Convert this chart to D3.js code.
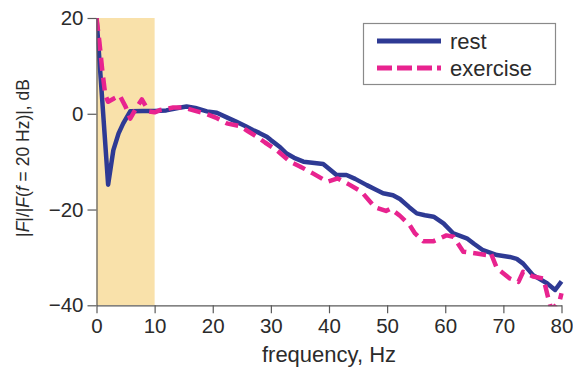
<!DOCTYPE html>
<html>
<head>
<meta charset="utf-8">
<script src="https://cdn.jsdelivr.net/npm/d3@7"></script>
<style>
  html, body { margin: 0; padding: 0; background: #fff; }
  svg { display: block; font-family: "Liberation Sans", Arial, Helvetica, sans-serif; }
</style>
</head>
<body>
<svg id="chart" width="573" height="374"></svg>
<script>
// Frequency response relative to 20 Hz, at rest and during exercise
const restFreq = [0, 2, 2.9, 3.8, 4.6, 5.8, 8, 10, 12, 14, 15.5, 17, 19, 20.7, 22.5, 24.1, 25.5, 26.9, 28, 29.3, 30, 31.6, 32.7, 34, 35.6, 37.5, 39, 40, 41.3, 43, 44.5, 46.5, 48, 49.3, 51, 52.2, 53.8, 55.1, 56.5, 58, 59.7, 61.4, 63.7, 65, 66.5, 68.9, 71.1, 72.3, 73.4, 75.1, 77.5, 78.9, 80];
const restDb   = [20, -14.8, -7.6, -4.1, -2, 0.5, 0.6, 0.6, 0.7, 1.2, 1.5, 1.2, 0.5, 0.2, -0.8, -1.7, -2.5, -3.4, -4, -4.8, -5.5, -7, -8.3, -9.2, -10, -10.3, -10.5, -11.5, -12.8, -12.8, -13.6, -14.9, -15.8, -16.6, -17, -17.8, -19.5, -20.8, -21.2, -21.5, -22.9, -25, -26, -27.2, -28.5, -29.5, -29.9, -30.3, -31.3, -33.7, -35.4, -36.8, -35];

const exerciseFreq = [0, 0.5, 1, 1.5, 2, 3, 4, 5, 5.8, 7, 7.8, 9, 10, 11, 13.2, 15, 17, 19, 20.5, 22.4, 24.7, 26, 27.6, 29, 31, 33.3, 35, 37.3, 39.7, 41.5, 43.5, 45.6, 47.9, 49.8, 50.6, 52.2, 53.9, 54.8, 56.2, 58, 60.2, 61.4, 63.1, 65.4, 67.1, 67.8, 68.9, 71.1, 72.6, 73.4, 75.1, 76.9, 77.8, 78.3, 79.7, 80];
const exerciseDb   = [20, 15, 9, 4, 2.5, 3.2, 3.8, 1.5, -1, 1.5, 3, 0.5, 0.3, 0.8, 1.3, 1.3, 0.6, -0.1, -0.8, -2, -2.6, -3.6, -4.8, -6, -7.6, -10, -11, -12.5, -14.2, -13.5, -14.8, -16.3, -19.5, -20.3, -19.8, -21.3, -23.3, -25, -26.6, -26.6, -25.4, -25.7, -28.8, -29.2, -29.5, -29, -32.3, -34.4, -35.1, -33, -34, -34.4, -38.9, -41, -39, -37.5];

const xTicks = [0, 10, 20, 30, 40, 50, 60, 70, 80];
const yTicks = [20, 0, -20, -40];
const band = [0, 10];

const svg = d3.select("#chart");
const W = 573, H = 374;
const m = { left: 96.5, right: 11.5, top: 18, bottom: 68.7 };

const x = d3.scaleLinear().domain([0, 80]).range([m.left, W - m.right]);
const y = d3.scaleLinear().domain([-40, 20]).range([H - m.bottom, m.top]);

const textColor = "#2b2b2b";
const axisColor = "#5a5a5a";

// shaded low-frequency band
svg.append("rect")
  .attr("x", x(band[0])).attr("y", y(20))
  .attr("width", x(band[1]) - x(band[0]))
  .attr("height", y(-40) - y(20))
  .attr("fill", "#f9e1aa");

svg.append("clipPath").attr("id", "plotClip")
  .append("rect")
  .attr("x", x(0)).attr("y", y(20))
  .attr("width", x(80) - x(0) + 6)
  .attr("height", y(-40) - y(20) + 1);

const line = d3.line()
  .x(d => x(d[0]))
  .y(d => y(d[1]));

const restPts = restFreq.map((f, i) => [f, restDb[i]]);
const exPts = exerciseFreq.map((f, i) => [f, exerciseDb[i]]);

const plot = svg.append("g").attr("clip-path", "url(#plotClip)");

plot.append("path")
  .datum(restPts)
  .attr("d", line)
  .attr("fill", "none")
  .attr("stroke", "#2e3a94")
  .attr("stroke-width", 4.5)
  .attr("stroke-linejoin", "round");

plot.append("path")
  .datum(exPts)
  .attr("d", line)
  .attr("fill", "none")
  .attr("stroke", "#e8238f")
  .attr("stroke-width", 4.5)
  .attr("stroke-linejoin", "round")
  .attr("stroke-dasharray", "13,7");

// axes
const xAxis = svg.append("g")
  .attr("transform", `translate(0,${y(-40)})`)
  .call(d3.axisBottom(x).tickValues(xTicks).tickSize(8).tickPadding(5).tickSizeOuter(0));

const yAxis = svg.append("g")
  .attr("transform", `translate(${x(0)},0)`)
  .call(d3.axisLeft(y).tickValues(yTicks).tickSize(9).tickPadding(4).tickSizeOuter(0)
    .tickFormat(d => d < 0 ? "\u2212" + Math.abs(d) : d));

[xAxis, yAxis].forEach(a => {
  a.select(".domain").attr("stroke", axisColor).attr("stroke-width", 1.2);
  a.selectAll(".tick line").attr("stroke", axisColor).attr("stroke-width", 1.2);
  a.selectAll(".tick text")
    .attr("fill", textColor)
    .style("font-size", "20.5px")
    .style("font-family", "'Liberation Sans', Arial, sans-serif");
});

// axis titles
svg.append("text")
  .attr("x", (x(0) + x(80)) / 2)
  .attr("y", 362)
  .attr("text-anchor", "middle")
  .attr("fill", textColor)
  .style("font-size", "22px")
  .text("frequency, Hz");

const yTitle = svg.append("text")
  .attr("transform", "translate(29,158) rotate(-90)")
  .attr("text-anchor", "middle")
  .attr("fill", textColor)
  .style("font-size", "17.5px");
yTitle.append("tspan").text("|");
yTitle.append("tspan").attr("font-style", "italic").text("F");
yTitle.append("tspan").text("|/|");
yTitle.append("tspan").attr("font-style", "italic").text("F");
yTitle.append("tspan").text("(");
yTitle.append("tspan").attr("font-style", "italic").text("f");
yTitle.append("tspan").text(" = 20 Hz)|, dB");

// legend
const lg = svg.append("g");
lg.append("rect")
  .attr("x", 363.5).attr("y", 23.5)
  .attr("width", 192).attr("height", 61)
  .attr("fill", "#fff")
  .attr("stroke", "#8a8a8a")
  .attr("stroke-width", 1.2);

const legendItems = [
  { label: "rest", color: "#2e3a94", dash: null, yy: 41 },
  { label: "exercise", color: "#e8238f", dash: "15,5", yy: 68 }
];
legendItems.forEach(it => {
  const l = lg.append("line")
    .attr("x1", 377).attr("x2", 441)
    .attr("y1", it.yy).attr("y2", it.yy)
    .attr("stroke", it.color)
    .attr("stroke-width", 5);
  if (it.dash) l.attr("stroke-dasharray", it.dash);
  lg.append("text")
    .attr("x", 450).attr("y", it.yy + 7.5)
    .attr("fill", textColor)
    .style("font-size", "22px")
    .text(it.label);
});
</script>
</body>
</html>
